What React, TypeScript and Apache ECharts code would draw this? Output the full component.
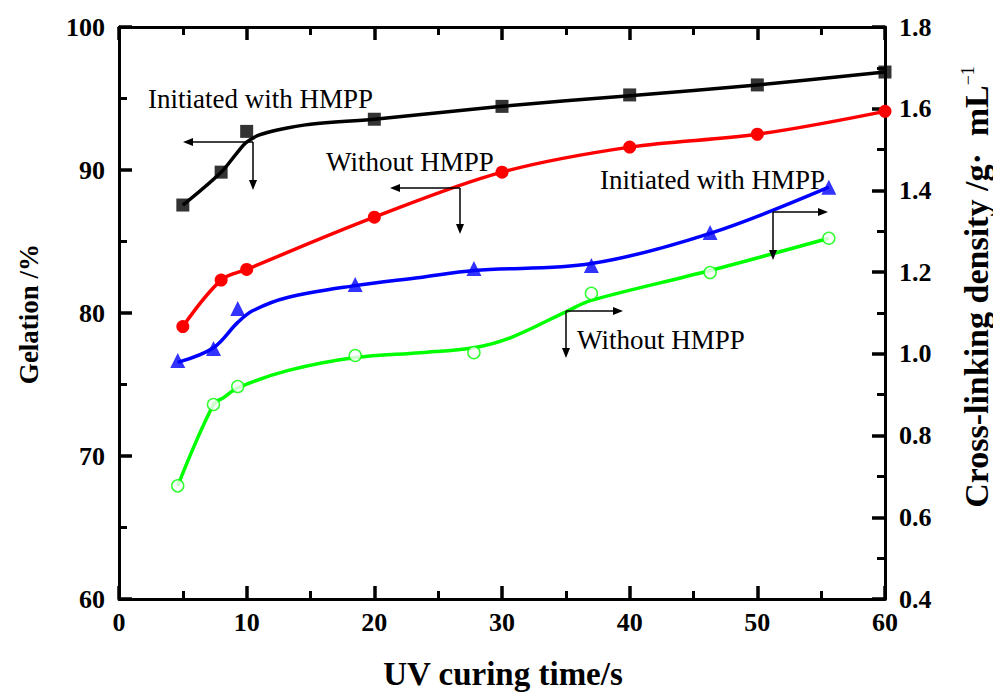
import React, { useEffect, useRef } from "react";
import * as echarts from "echarts";

// Gelation (left axis), curing time in s
const timeGel = [5, 8, 10, 20, 30, 40, 50, 60];
const gelInitiated = [87.55, 89.85, 92.7, 93.55, 94.45, 95.25, 95.95, 96.85];
const gelWithout = [79.05, 82.3, 83.05, 86.7, 89.85, 91.6, 92.5, 94.1];

// fitted curve for gelation (initiated)
const gelInitFitTime = [5, 8, 9.2, 10, 11, 12.4, 15, 20, 30, 40, 50, 60];
const gelInitFit = [87.55, 89.85, 91.15, 91.95, 92.45, 92.8, 93.2, 93.55, 94.45, 95.2, 95.95, 96.85];

// Cross-linking density (right axis)
const timeDens = [4.6, 7.4, 9.3, 18.5, 27.8, 37.0, 46.3, 55.6];
const densInitiated = [0.984, 1.013, 1.111, 1.17, 1.209, 1.216, 1.297, 1.408];
const densWithout = [0.677, 0.876, 0.92, 0.996, 1.003, 1.148, 1.199, 1.283];

// fitted curves
const densInitFitTime = [4.6, 7.4, 9.3, 10.5, 13.2, 18.5, 23.6, 27.8, 37.0, 46.3, 55.6];
const densInitFit = [0.979, 1.015, 1.077, 1.106, 1.138, 1.167, 1.187, 1.204, 1.221, 1.295, 1.408];
const densWithoutFitTime = [4.6, 7.4, 8.2, 9.3, 13.2, 18.5, 23.6, 27.8, 30.7, 35.2, 37.0, 46.3, 55.6];
const densWithoutFit = [0.677, 0.876, 0.893, 0.917, 0.959, 0.991, 1.003, 1.015, 1.04, 1.106, 1.131, 1.204, 1.283];

const xTicks = { min: 0, max: 60, interval: 10 };
const leftTicks = { min: 60, max: 100, interval: 10 };
const rightTicks = { min: 0.4, max: 1.8, interval: 0.2 };

const FONT = '"Liberation Serif", "Times New Roman", serif';

const zip = (xs: number[], ys: number[]) => xs.map((x, i) => [x, ys[i]]);

function arrowHead(x: number, y: number, dir: "left" | "right" | "down") {
  const L = 10, W = 4;
  let pts: number[][];
  if (dir === "left") pts = [[x, y], [x + L, y - W], [x + L, y + W]];
  else if (dir === "right") pts = [[x, y], [x - L, y - W], [x - L, y + W]];
  else pts = [[x, y], [x - W, y - L], [x + W, y - L]];
  return { type: "polygon", shape: { points: pts }, style: { fill: "#000" }, z: 20 };
}

function elbow(cx: number, cy: number, hx: number, vy: number, hdir: "left" | "right") {
  const stroke = { stroke: "#000", lineWidth: 1.5 };
  return [
    { type: "line", shape: { x1: cx, y1: cy, x2: hdir === "left" ? hx + 8 : hx - 8, y2: cy }, style: stroke, z: 20 },
    { type: "line", shape: { x1: cx, y1: cy, x2: cx, y2: vy - 8 }, style: stroke, z: 20 },
    arrowHead(hx, cy, hdir),
    arrowHead(cx, vy, "down"),
  ];
}

function annoText(x: number, y: number, text: string) {
  return {
    type: "text",
    x,
    y,
    z: 20,
    style: {
      text,
      fontFamily: FONT,
      fontSize: 27,
      fill: "#000",
      textAlign: "left",
      textVerticalAlign: "middle",
    },
  };
}

function makeAxisParts() {
  return {
    axisLine: { show: true, onZero: false, lineStyle: { color: "#000", width: 3 } },
    axisTick: { show: true, inside: true, length: 13, lineStyle: { color: "#000", width: 3.5 } },
    minorTick: { show: true, splitNumber: 2, length: 8, lineStyle: { color: "#000", width: 3 } },
    splitLine: { show: false },
  };
}

export default function App() {
  const ref = useRef<HTMLDivElement>(null);
  useEffect(() => {
    const chart = echarts.init(ref.current!, null, { renderer: "svg" });
    const labelStyle = { fontFamily: FONT, fontSize: 26, fontWeight: "bold", color: "#000" };

    chart.setOption({
      animation: false,
      backgroundColor: "#fff",
      grid: { left: 119, right: 108, top: 27, bottom: 96, containLabel: false },
      xAxis: [
        {
          type: "value",
          position: "bottom",
          ...xTicks,
          ...makeAxisParts(),
          axisLabel: { ...labelStyle, margin: 10 },
        },
        {
          type: "value",
          position: "top",
          ...xTicks,
          ...makeAxisParts(),
          axisLabel: { show: false },
        },
      ],
      yAxis: [
        {
          type: "value",
          position: "left",
          ...leftTicks,
          ...makeAxisParts(),
          axisLabel: { ...labelStyle, margin: 14 },
        },
        {
          type: "value",
          position: "right",
          ...rightTicks,
          ...makeAxisParts(),
          axisLabel: { ...labelStyle, margin: 14, formatter: (v: number) => v.toFixed(1) },
        },
      ],
      series: [
        {
          name: "Gelation initiated fit",
          type: "line",
          xAxisIndex: 0,
          yAxisIndex: 0,
          data: zip(gelInitFitTime, gelInitFit),
          smooth: 0.35,
          showSymbol: false,
          lineStyle: { color: "#000", width: 3.5 },
          z: 3,
        },
        {
          name: "Gelation initiated",
          type: "scatter",
          xAxisIndex: 0,
          yAxisIndex: 0,
          data: zip(timeGel, gelInitiated),
          symbol: "rect",
          symbolSize: 13,
          itemStyle: { color: "#000" },
          z: 5,
        },
        {
          name: "Gelation without",
          type: "line",
          xAxisIndex: 0,
          yAxisIndex: 0,
          data: zip(timeGel, gelWithout),
          smooth: 0.35,
          symbol: "circle",
          symbolSize: 13,
          itemStyle: { color: "#ff0000" },
          lineStyle: { color: "#ff0000", width: 3.5 },
          z: 4,
        },
        {
          name: "Density initiated fit",
          type: "line",
          xAxisIndex: 0,
          yAxisIndex: 1,
          data: zip(densInitFitTime, densInitFit),
          smooth: 0.35,
          showSymbol: false,
          lineStyle: { color: "#0000ff", width: 3.5 },
          z: 3,
        },
        {
          name: "Density initiated",
          type: "scatter",
          xAxisIndex: 0,
          yAxisIndex: 1,
          data: zip(timeDens, densInitiated),
          symbol: "triangle",
          symbolSize: 15,
          itemStyle: { color: "#0000ff" },
          z: 5,
        },
        {
          name: "Density without fit",
          type: "line",
          xAxisIndex: 0,
          yAxisIndex: 1,
          data: zip(densWithoutFitTime, densWithoutFit),
          smooth: 0.35,
          showSymbol: false,
          lineStyle: { color: "#00ff00", width: 3.5 },
          z: 3,
        },
        {
          name: "Density without",
          type: "scatter",
          xAxisIndex: 0,
          yAxisIndex: 1,
          data: zip(timeDens, densWithout),
          symbol: "circle",
          symbolSize: 12,
          itemStyle: { color: "#fff", borderColor: "#00ff00", borderWidth: 1.5 },
          z: 5,
        },
      ],
      graphic: [
        annoText(148, 99, "Initiated with HMPP"),
        ...elbow(253, 142, 183, 190, "left"),
        annoText(326, 162, "Without HMPP"),
        ...elbow(460, 188, 390, 234, "left"),
        annoText(600, 180, "Initiated with HMPP"),
        ...elbow(773, 212, 828, 260, "right"),
        annoText(577, 340, "Without HMPP"),
        ...elbow(566, 311, 623, 358, "right"),
        {
          type: "text",
          x: 29,
          y: 314,
          rotation: Math.PI / 2,
          style: {
            text: "Gelation /%",
            fontFamily: FONT,
            fontSize: 27,
            fontWeight: "bold",
            fill: "#000",
            textAlign: "center",
            textVerticalAlign: "middle",
          },
        },
        {
          type: "text",
          x: 976,
          y: 287,
          rotation: Math.PI / 2,
          style: {
            text: "Cross-linking density /g·  mL{sup|−1}",
            rich: {
              sup: { fontFamily: FONT, fontSize: 18, fontWeight: "normal", verticalAlign: "top", fill: "#000" },
            },
            fontFamily: FONT,
            fontSize: 34,
            fontWeight: "bold",
            fill: "#000",
            textAlign: "center",
            textVerticalAlign: "middle",
          },
        },
        {
          type: "text",
          x: 503,
          y: 674,
          style: {
            text: "UV curing time/s",
            fontFamily: FONT,
            fontSize: 33,
            fontWeight: "bold",
            fill: "#000",
            textAlign: "center",
            textVerticalAlign: "middle",
          },
        },
      ],
    });
    return () => chart.dispose();
  }, []);
  return (
    <div
      ref={ref}
      style={{ position: "fixed", left: 0, top: 0, width: 993, height: 695, background: "#fff" }}
    />
  );
}
